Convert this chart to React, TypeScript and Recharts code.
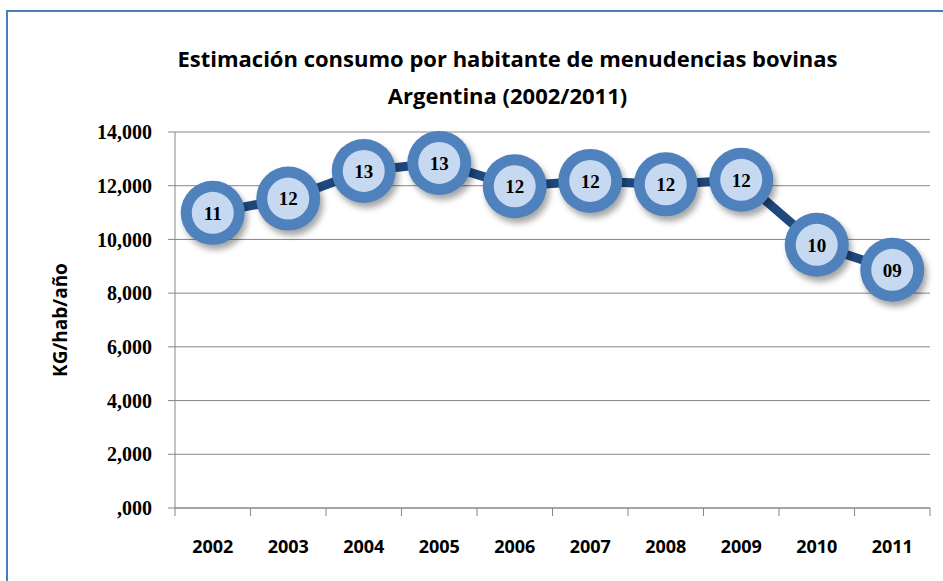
import { LineChart, Line, XAxis, YAxis, CartesianGrid, LabelList } from 'recharts'

const years = ['2002', '2003', '2004', '2005', '2006', '2007', '2008', '2009', '2010', '2011']
const kgPerHab = [10.99, 11.52, 12.55, 12.85, 11.98, 12.18, 12.05, 12.22, 9.8, 8.87]
const yTicks = [0, 2, 4, 6, 8, 10, 12, 14]

const data = years.map((year, i) => ({ year, value: kgPerHab[i] }))

const fmtY = (v: number) => v.toFixed(3).replace('.', ',').replace(/^0/, '')
const fmtLabel = (v: number) => String(Math.round(v)).padStart(2, '0')

const PLOT_W = 943 - 175 - 13
const HALF_BAND = PLOT_W / years.length / 2
const narrow = '"Liberation Sans Narrow", "Open Sans", sans-serif'

const Marker = (props: any) => {
  const { cx, cy } = props
  if (cx == null || cy == null) return null
  return (
    <g>
      <circle cx={cx + 3} cy={cy + 5} r={32} fill="#000" opacity={0.35} filter="url(#blur)" />
      <circle cx={cx} cy={cy} r={32} fill="#4f81bd" />
      <circle cx={cx} cy={cy} r={21} fill="#c6d9f1" />
    </g>
  )
}

// category label centred in its band, tick marks on the band edges
const XTick = (props: any) => {
  const { x, y, payload, index } = props
  const axisY = y - 28
  return (
    <g>
      <line x1={x - HALF_BAND} x2={x - HALF_BAND} y1={axisY} y2={axisY + 8} stroke="#868686" />
      {index === years.length - 1 && (
        <line x1={x + HALF_BAND} x2={x + HALF_BAND} y1={axisY} y2={axisY + 8} stroke="#868686" />
      )}
      <text x={x} y={y} dy={17} textAnchor="middle" fill="#000" fontSize={18} fontWeight={700} fontFamily={narrow}>
        {payload.value}
      </text>
    </g>
  )
}

export default function App() {
  return (
    <div style={{ position: 'absolute', left: 0, top: 0, width: 943, height: 581, background: '#fff' }}>
      <div style={{ position: 'absolute', left: 6, top: 10, width: 940, height: 580, borderLeft: '2px solid #4a7ebb', borderTop: '2px solid #4a7ebb' }} />
      <div style={{ position: 'absolute', left: 0, top: 40, width: 1015, textAlign: 'center', fontFamily: narrow, fontWeight: 700, fontSize: 22, lineHeight: '37px', color: '#000' }}>
        Estimación consumo por habitante de menudencias bovinas<br />Argentina (2002/2011)
      </div>
      <div style={{ position: 'absolute', left: 60, top: 320, transform: 'translate(-50%, -50%) rotate(-90deg)', fontFamily: narrow, fontWeight: 700, fontSize: 19, whiteSpace: 'nowrap' }}>
        KG/hab/año
      </div>
      <LineChart width={943} height={581} data={data} margin={{ top: 132, right: 13, left: 0, bottom: 0 }}>
        <defs>
          <filter id="blur" x="-50%" y="-50%" width="200%" height="200%">
            <feGaussianBlur stdDeviation="3" />
          </filter>
        </defs>
        <CartesianGrid vertical={false} stroke="#868686" strokeWidth={1} />
        <XAxis
          dataKey="year"
          height={73}
          stroke="#868686"
          padding={{ left: HALF_BAND, right: HALF_BAND }}
          tickLine={false}
          tickSize={8}
          tickMargin={20}
          tick={<XTick />}
          interval={0}
        />
        <YAxis
          width={175}
          domain={[0, 14]}
          ticks={yTicks}
          tickFormatter={fmtY}
          stroke="#868686"
          tickSize={7}
          tickMargin={16}
          tick={{ fill: '#000', fontSize: 20, fontWeight: 700, fontFamily: '"Liberation Serif", serif' }}
        />
        <Line
          type="linear"
          dataKey="value"
          stroke="#1f497d"
          strokeWidth={9}
          dot={<Marker />}
          activeDot={false}
          isAnimationActive={false}
        >
          <LabelList dataKey="value" position="center" formatter={(v: any) => fmtLabel(Number(v))} style={{ fill: '#000', fontSize: 19, fontWeight: 700, fontFamily: '"Liberation Serif", serif' }} />
        </Line>
      </LineChart>
    </div>
  )
}
